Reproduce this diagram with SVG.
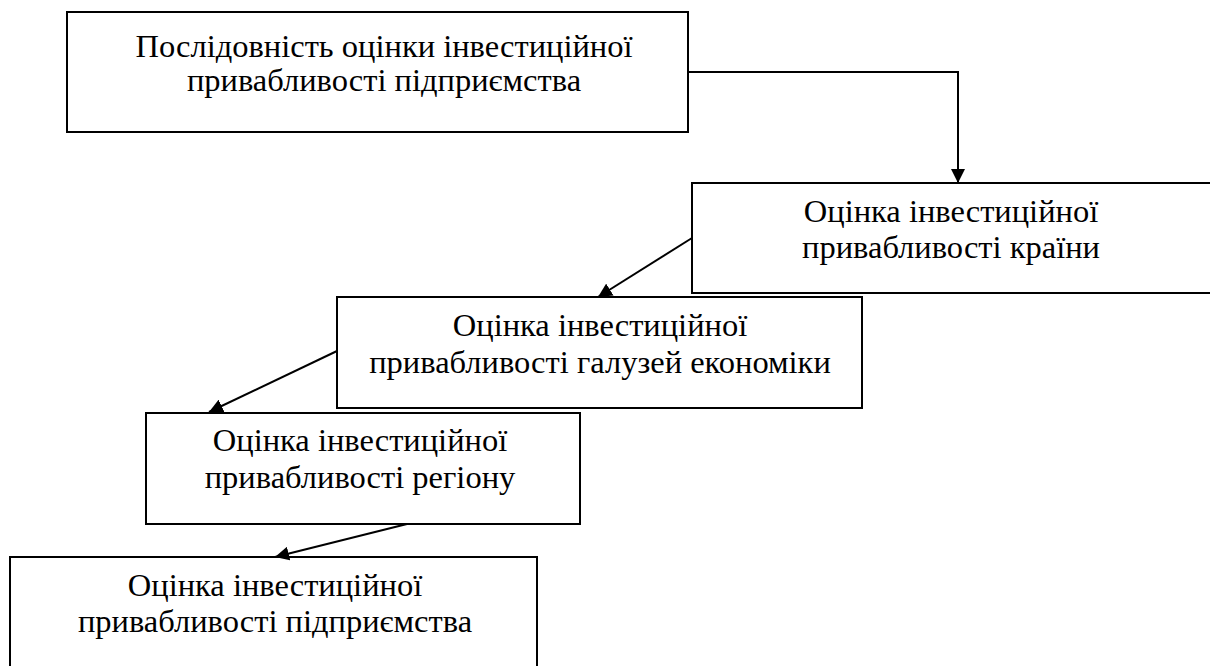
<svg xmlns="http://www.w3.org/2000/svg" width="1210" height="666" viewBox="0 0 1210 666">
<defs>
<style>
.box{fill:#fff;stroke:#000;stroke-width:2}
.t{font-family:"Liberation Serif","Times New Roman",serif;font-size:32.5px;fill:#000;text-anchor:middle}
.c{fill:none;stroke:#000;stroke-width:2}
</style>
<marker id="ah" markerWidth="14" markerHeight="14" refX="14" refY="7" orient="auto" markerUnits="userSpaceOnUse">
<path d="M0,0 L14,7 L0,14 Z" fill="#000"/>
</marker>
</defs>
<rect width="1210" height="666" fill="#fff"/>
<g id="n1"><rect class="box" x="67" y="12" width="621" height="120"/>
<text class="t" x="384" y="57">Послідовність оцінки інвестиційної</text>
<text class="t" x="384" y="91">привабливості підприємства</text></g>
<g id="n2"><rect class="box" x="692" y="183" width="520" height="110"/>
<text class="t" x="951" y="222">Оцінка інвестиційної</text>
<text class="t" x="951" y="258">привабливості країни</text></g>
<g id="n3"><rect class="box" x="337" y="297" width="525" height="111"/>
<text class="t" x="600" y="336">Оцінка інвестиційної</text>
<text class="t" x="600" y="373">привабливості галузей економіки</text></g>
<g id="n4"><rect class="box" x="146" y="413" width="434" height="111"/>
<text class="t" x="360" y="451">Оцінка інвестиційної</text>
<text class="t" x="360" y="488">привабливості регіону</text></g>
<g id="n5"><rect class="box" x="10" y="557" width="527" height="112"/>
<text class="t" x="275" y="596">Оцінка інвестиційної</text>
<text class="t" x="275" y="632">привабливості підприємства</text></g>
<g id="connectors">
<path class="c" d="M688,72 H958 V183" marker-end="url(#ah)"/>
<path class="c" d="M692,238 L598,297" marker-end="url(#ah)"/>
<path class="c" d="M337,351 L209,412" marker-end="url(#ah)"/>
<path class="c" d="M407,524 L275,557" marker-end="url(#ah)"/>
</g>
</svg>
